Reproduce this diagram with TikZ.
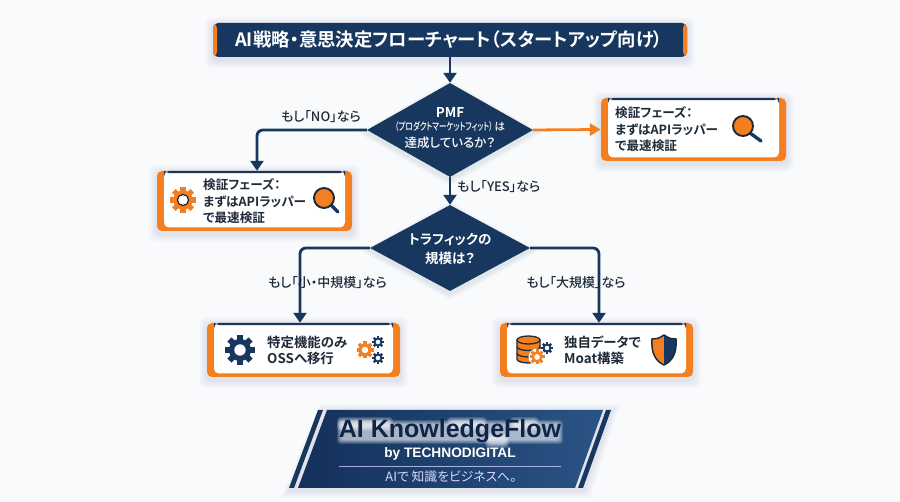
\documentclass[tikz,border=0pt]{standalone}
\usepackage{fontspec}
\usepackage{graphicx}
\usetikzlibrary{arrows.meta,shapes.geometric,calc}
\setmainfont{Noto Sans CJK JP}[RawFeature=+palt,BoldFont={Noto Sans CJK JP Medium}]
\newfontfamily\jb{Noto Sans CJK JP Bold}[RawFeature=+palt]
\newfontfamily\lat{Liberation Sans}
\definecolor{navy}{HTML}{17375E}
\definecolor{ora}{HTML}{F47F20}
\definecolor{ink}{HTML}{1E2A38}
\definecolor{bga}{HTML}{F8FAFC}
\definecolor{banl}{HTML}{14305A}
\definecolor{banr}{HTML}{2A5485}
\definecolor{bantext}{HTML}{0F2547}
\newcommand\fs[1]{\fontsize{#1}{#1}\selectfont}
\newcommand\softrect[4]{\foreach \i in {1,...,8}{\fill[navy,opacity=.012,rounded corners=6pt] ({#1-\i},{#2-\i+2}) rectangle ({#3+\i},{#4+\i+3});}}
\newcommand\softdia[4]{\foreach \i in {1,...,6}{\fill[navy,opacity=.014] ({#1-#3-\i*1.5},{#2+3}) -- (#1,{#2-#4-\i+3}) -- ({#1+#3+\i*1.5},{#2+3}) -- (#1,{#2+#4+\i+3}) -- cycle;}}
\newcommand\glow[4]{\foreach \i in {1,...,6}{\fill[white,opacity=.15,rounded corners=3pt] ({#1-\i*.8},{#2-\i*.8}) rectangle ({#3+\i*.8},{#4+\i*.8});}}
\newcommand\gearicon[5]{%
  \fill[#4] (#1,#2) circle ({.74*#3});
  \foreach \a in {0,45,90,135}{\fill[#4,rotate around={\a:(#1,#2)}] ({#1-.2*#3},{#2-#3}) rectangle ({#1+.2*#3},{#2+#3});}
  \fill[#5] (#1,#2) circle ({.38*#3});}
\newcommand\lens[5]{%
  \draw[navy,line width=3.4pt,line cap=round] ({#1+.7*#3},{#2+.7*#3}) -- (#4,#5);
  \fill[ora] (#1,#2) circle (#3);
  \draw[ink,line width=1.9pt] (#1,#2) circle (#3);}
\newcommand\dbarc[1]{\draw[ink,line width=1.3pt] (517,#1) .. controls (517,{#1+5.3}) and (540,{#1+5.3}) .. (540,#1);}
\tikzset{
  endbox/.style={rectangle,rounded corners=5pt,fill=ora,inner sep=0pt,
    path picture={
      \fill[white] ($(path picture bounding box.north west)+(7,0)$) rectangle ($(path picture bounding box.south east)+(-7,-3.5)$);
      \fill[navy] ($(path picture bounding box.north west)+(7,0)$) rectangle ($(path picture bounding box.north east)+(-7,2.2)$);}},
  titlebox/.style={rectangle,rounded corners=5pt,fill=navy,inner sep=0pt,
    path picture={
      \fill[ora] (path picture bounding box.north west) rectangle ($(path picture bounding box.south west)+(4,0)$);
      \fill[ora] (path picture bounding box.north east) rectangle ($(path picture bounding box.south east)+(-4,0)$);}},
  decide/.style={diamond,fill=navy,inner sep=0pt,aspect=1.75},
  boxtext/.style={anchor=west,inner sep=0pt,text=ink,font=\jb\fs{12.6}},
  bigtext/.style={boxtext,font=\jb\fs{13.4}},
  difftext/.style={inner sep=0pt,text=white,font=\fs{12.5}\bfseries},
  edgetext/.style={inner sep=0pt,text=ink,font=\fs{13}\bfseries},
  flow/.style={navy,line width=2.8pt,-{Triangle[length=10pt,width=13pt]}},
  flowo/.style={ora,line width=2.8pt,-{Triangle[length=11pt,width=12pt]}},
}
\begin{document}
\begin{tikzpicture}[x=1pt,y=-1pt]
\useasboundingbox (0,0) rectangle (900,502);
\fill[bga] (0,0) rectangle (900,502);
% shadows
\softrect{213}{23}{687}{57}
\softrect{157}{171}{352}{231}
\softrect{601}{98}{786}{161}
\softrect{207}{323}{400}{377}
\softrect{500}{323}{693}{377}
\softdia{450}{130}{83}{47}
\softdia{450}{248}{80}{43}
% title
\node[titlebox,minimum width=474pt,minimum height=34pt] (title) at (450,40) {};
\node[inner sep=0pt,text=white,font=\jb\fs{18.4}] (titlet) at (449,40) {AI戦略・意思決定フローチャート（スタートアップ向け）};
% decisions
\node[decide,minimum width=166pt,minimum height=94pt] (d1) at (450,130) {};
\node[decide,minimum width=160pt,minimum height=86pt] (d2) at (450,248) {};
\node[difftext,font=\jb\fs{13.5}] (d1a) at (450,113) {PMF};
\node[difftext,font=\fs{10.5}\bfseries] (d1b) at (450,127) {\scalebox{.72}[1]{（プロダクトマーケットフィット）}\,は};
\node[difftext,font=\fs{12.5}\bfseries] (d1c) at (450,143) {達成しているか？};
\node[difftext,font=\jb\fs{13.5}] (d2a) at (450,240) {トラフィックの};
\node[difftext,font=\jb\fs{13.5}] (d2b) at (450,258) {規模は？};
% boxes
\node[endbox,minimum width=195pt,minimum height=60pt] (bl) at (254.5,201) {};
\node[endbox,minimum width=185pt,minimum height=63pt] (br) at (693.5,129.5) {};
\node[endbox,minimum width=193pt,minimum height=54pt] (sl) at (303.5,350) {};
\node[endbox,minimum width=193pt,minimum height=54pt] (sr) at (596.5,350) {};
% connectors
\draw[flow] (title.south) -- (d1.north);
\draw[flow] (d1.south) -- (d2.north);
\draw[flow,rounded corners=6pt] (d1.west) -| ([xshift=2.5pt]bl.north);
\draw[flowo] (d1.east) -- (br.west);
\draw[flow,rounded corners=6pt] (d2.west) -| ([xshift=-3.5pt]sl.north);
\draw[flow,rounded corners=6pt] (d2.east) -| ([xshift=2.5pt]sr.north);
% edge labels
\node[edgetext] (e1) at (321,117) {もし「NO」なら};
\node[edgetext,anchor=west] (e2) at (457,187) {もし「YES」なら};
\node[edgetext] (e3) at (327.5,283) {もし「小・中規模」なら};
\node[edgetext] (e4) at (576,283) {もし「大規模」なら};
% box texts
\node[boxtext] (bl1) at (203,185) {検証フェーズ：};
\node[boxtext] (bl2) at (203,202) {まずはAPIラッパー};
\node[boxtext] (bl3) at (203,218) {で最速検証};
\node[boxtext] (br1) at (615,113) {検証フェーズ：};
\node[boxtext] (br2) at (615,130) {まずはAPIラッパー};
\node[boxtext] (br3) at (615,146) {で最速検証};
\node[bigtext] (sl1) at (267,342) {特定機能のみ};
\node[bigtext] (sl2) at (267,358) {OSSへ移行};
\node[bigtext] (sr1) at (564,342) {独自データで};
\node[bigtext] (sr2) at (564,358) {Moat構築};
% icons
\gearicon{183}{200}{13}{ora}{white}
\draw[ink,line width=1.2pt] (183,200) circle (5.6);
\lens{324}{198}{10}{338}{212}
\lens{743}{126}{10}{761}{141}
\gearicon{240}{350}{15}{navy}{white}
\gearicon{365}{350}{8.5}{ora}{white}
\gearicon{378}{342}{6}{navy}{white}
\gearicon{378}{358}{6}{navy}{white}
% database
\draw[ink,fill=ora,line width=1.3pt] (517,340) -- (517,359) .. controls (517,364.3) and (540,364.3) .. (540,359) -- (540,340) -- cycle;
\dbarc{346.5}
\dbarc{353}
\draw[ink,fill=ora,line width=1.3pt] (528.5,340) ellipse [x radius=11.5,y radius=4];
\gearicon{547}{348}{6}{navy}{white}
\fill[white] (537,357) circle (8.5);
\gearicon{537}{357}{7.5}{ora}{white}
% shield
\fill[ora] (664,335) .. controls (658,339) and (656,339) .. (652,339) .. controls (651,352) and (655,361) .. (664,365) -- cycle;
\fill[navy] (664,335) .. controls (670,339) and (672,339) .. (676,339) .. controls (677,352) and (673,361) .. (664,365) -- cycle;
\draw[ink,line width=1.5pt,line join=round] (664,335) .. controls (670,339) and (672,339) .. (676,339) .. controls (677,352) and (673,361) .. (664,365) .. controls (655,361) and (651,352) .. (652,339) .. controls (656,339) and (658,339) .. (664,335) -- cycle;
% banner
\foreach \i in {1,...,8}{\fill[navy,opacity=.012] ({327-\i},{410-\i+2}) -- ({612+\i},{410-\i+2}) -- ({583+\i},{488+\i+2}) -- ({289-\i},{488+\i+2}) -- cycle;}
\fill[navy] (318,410) -- (323,410) -- (294,488) -- (289,488) -- cycle;
\fill[navy] (606,410) -- (611,410) -- (583,488) -- (578,488) -- cycle;
\shade[left color=banl,right color=banr] (327,410) -- (603,410) -- (575,488) -- (298,488) -- cycle;
\glow{342}{425}{558}{439}
\glow{342}{422}{388}{426}
\glow{452}{422}{482}{426}
\glow{515}{422}{534}{426}
\glow{490}{438}{504}{443}
\node[inner sep=0pt,text=bantext,font=\lat\bfseries\fs{25}] (bt1) at (450,431.5) {AI KnowledgeFlow};
\node[inner sep=0pt,text=white,font=\lat\bfseries\fs{13.7}] (bt2) at (450,454) {by TECHNODIGITAL};
\coordinate (ra) at (339,466);
\coordinate (rb) at (561,466);
\draw[blue!20!white,opacity=.8,line width=.7pt] (ra) -- (rb);
\node[inner sep=0pt,text=white!85!blue,font=\fs{12.8}] (bt3) at (451,477) {AIで 知識をビジネスへ。};
\end{tikzpicture}
\end{document}
